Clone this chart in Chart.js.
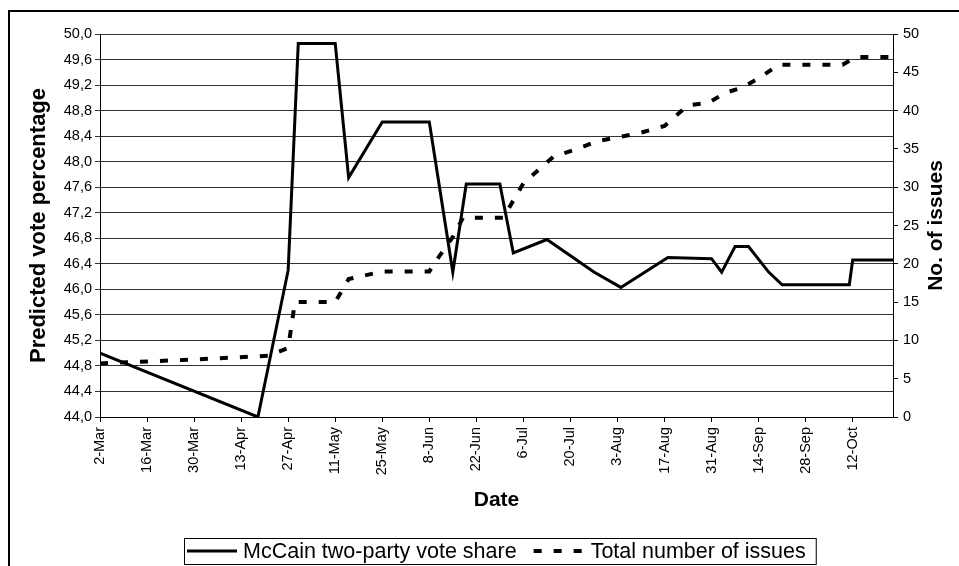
<!DOCTYPE html>
<html>
<head>
<meta charset="utf-8">
<script src="https://cdn.jsdelivr.net/npm/chart.js@4.4.1/dist/chart.umd.min.js"></script>
<style>
  html, body { margin: 0; padding: 0; background: #fff; }
</style>
</head>
<body>
<canvas id="chart" width="959" height="566"></canvas>
<script>
const startDate = '2008-03-02';
const endDate = '2008-10-24';
const tickStepDays = 14;
const xTickLabels = ['2-Mar', '16-Mar', '30-Mar', '13-Apr', '27-Apr', '11-May', '25-May', '8-Jun', '22-Jun',
    '6-Jul', '20-Jul', '3-Aug', '17-Aug', '31-Aug', '14-Sep', '28-Sep', '12-Oct'];

// McCain two-party vote share (left axis)
const shareDates = ['2008-03-02', '2008-04-18', '2008-04-27', '2008-04-30', '2008-05-11', '2008-05-15',
    '2008-05-25', '2008-06-08', '2008-06-15', '2008-06-19', '2008-06-29', '2008-07-03', '2008-07-13',
    '2008-07-27', '2008-08-04', '2008-08-18', '2008-08-31', '2008-09-03', '2008-09-07', '2008-09-11',
    '2008-09-17', '2008-09-21', '2008-10-11', '2008-10-12', '2008-10-24'];
const shareValues = [45.0, 44.0, 46.3, 49.85, 49.85, 47.75, 48.62, 48.62, 46.27, 47.65, 47.65, 46.57, 46.78,
    46.27, 46.03, 46.5, 46.48, 46.27, 46.67, 46.67, 46.27, 46.07, 46.07, 46.46, 46.46];

// Total number of issues (right axis)
const issueDates = ['2008-03-02', '2008-03-30', '2008-04-21', '2008-04-27', '2008-04-29', '2008-05-11',
    '2008-05-15', '2008-05-25', '2008-06-08', '2008-06-11', '2008-06-15', '2008-06-18', '2008-06-30',
    '2008-07-06', '2008-07-15', '2008-07-22', '2008-07-28', '2008-08-09', '2008-08-17', '2008-08-24',
    '2008-08-30', '2008-09-04', '2008-09-09', '2008-09-14', '2008-09-20', '2008-10-09', '2008-10-13',
    '2008-10-24'];
const issueCounts = [7, 7.5, 8, 9, 15, 15, 18, 19, 19, 21, 23.5, 26, 26, 30.5, 34, 35, 36, 37, 38, 40.7,
    41, 42.3, 43, 44.2, 46, 46, 47, 47];

const rightTitle = 'No. of issues';

function dayIndex(s) {
    return Math.round((Date.parse(s) - Date.parse(startDate)) / 86400000);
}

function toPoints(dates, values) {
    return dates.map((d, i) => ({ x: dayIndex(d), y: values[i] }));
}

const fontFamily = '"Liberation Sans", Arial, sans-serif';
Chart.defaults.font.family = fontFamily;
Chart.defaults.color = '#000';

// outer frame + right axis title (reads bottom to top, like the left one)
const framePlugin = {
    id: 'frame',
    afterDraw(chart) {
        const ctx = chart.ctx;
        const area = chart.chartArea;
        ctx.save();
        ctx.strokeStyle = '#000';
        ctx.lineWidth = 2;
        ctx.strokeRect(9, 11, 1200, 1200);

        ctx.translate(936, (area.top + area.bottom) / 2);
        ctx.rotate(-Math.PI / 2);
        ctx.font = 'bold 21px ' + fontFamily;
        ctx.fillStyle = '#000';
        ctx.textAlign = 'center';
        ctx.textBaseline = 'middle';
        ctx.fillText(rightTitle, 0, 0);
        ctx.restore();
    }
};

const legendPlugin = {
    id: 'boxLegend',
    afterDraw(chart) {
        const ctx = chart.ctx;
        const label1 = chart.data.datasets[0].label;
        const label2 = chart.data.datasets[1].label;
        ctx.save();
        ctx.font = '21.5px ' + fontFamily;
        const w1 = ctx.measureText(label1).width;
        const w2 = ctx.measureText(label2).width;
        const total = 3 + 50 + 6 + w1 + 17 + 48 + 9 + w2 + 10;
        const left = Math.round(499.5 - total / 2);
        const top = 538, bottom = 564, mid = 551;
        ctx.strokeStyle = '#000';
        ctx.lineWidth = 1;
        ctx.strokeRect(left + 0.5, top + 0.5, total, bottom - top);

        let x = left + 3;
        ctx.lineWidth = 3;
        ctx.beginPath();
        ctx.moveTo(x, mid);
        ctx.lineTo(x + 50, mid);
        ctx.stroke();
        x += 56;
        ctx.fillStyle = '#000';
        ctx.textBaseline = 'middle';
        ctx.fillText(label1, x, mid + 1);
        x += w1 + 17;
        ctx.lineWidth = 4;
        ctx.setLineDash([8, 12]);
        ctx.beginPath();
        ctx.moveTo(x, mid);
        ctx.lineTo(x + 48, mid);
        ctx.stroke();
        ctx.setLineDash([]);
        x += 57;
        ctx.fillText(label2, x, mid + 1);
        ctx.restore();
    }
};

new Chart(document.getElementById('chart').getContext('2d'), {
    type: 'line',
    data: {
        datasets: [{
            label: 'McCain two-party vote share',
            data: toPoints(shareDates, shareValues),
            yAxisID: 'y',
            borderColor: '#000',
            borderWidth: 3,
            pointRadius: 0,
            tension: 0,
            fill: false
        }, {
            label: 'Total number of issues',
            data: toPoints(issueDates, issueCounts),
            yAxisID: 'y1',
            borderColor: '#000',
            borderWidth: 4,
            borderDash: [8, 12],
            borderCapStyle: 'butt',
            pointRadius: 0,
            tension: 0,
            fill: false
        }]
    },
    options: {
        responsive: false,
        animation: false,
        layout: { padding: { top: 34, left: 0, right: 0, bottom: 0 } },
        plugins: {
            legend: { display: false },
            tooltip: { enabled: false }
        },
        scales: {
            x: {
                type: 'linear',
                position: 'bottom',
                min: 0,
                max: dayIndex(endDate),
                afterBuildTicks: (s) => { s.ticks = xTickLabels.map((_, i) => ({ value: i * tickStepDays })); },
                afterFit: (s) => { s.height = 149; },
                ticks: {
                    autoSkip: false,
                    minRotation: 90,
                    maxRotation: 90,
                    padding: 5,
                    font: { size: 14.5 },
                    callback: (v, i) => xTickLabels[i]
                },
                grid: { drawOnChartArea: false, color: '#000', tickLength: 5 },
                border: { color: '#000', width: 1 },
                title: {
                    display: true,
                    text: 'Date',
                    font: { size: 21, weight: 'bold' },
                    padding: { top: 0, bottom: 53 }
                }
            },
            y: {
                position: 'left',
                min: 44,
                max: 50,
                afterFit: (s) => { s.width = 100; },
                ticks: {
                    stepSize: 0.4,
                    padding: 3,
                    font: { size: 14.5 },
                    callback: (v) => v.toFixed(1).replace('.', ',')
                },
                grid: { color: '#333', tickLength: 5 },
                border: { color: '#000', width: 1 },
                title: {
                    display: true,
                    text: 'Predicted vote percentage',
                    font: { size: 22, weight: 'bold' },
                    padding: { top: 26, bottom: 0 }
                }
            },
            y1: {
                position: 'right',
                min: 0,
                max: 50,
                afterFit: (s) => { s.width = 66; },
                ticks: {
                    stepSize: 5,
                    padding: 5,
                    font: { size: 14.5 }
                },
                grid: { drawOnChartArea: false, color: '#000', tickLength: 5 },
                border: { color: '#000', width: 1 }
            }
        }
    },
    plugins: [framePlugin, legendPlugin]
});
</script>
</body>
</html>
